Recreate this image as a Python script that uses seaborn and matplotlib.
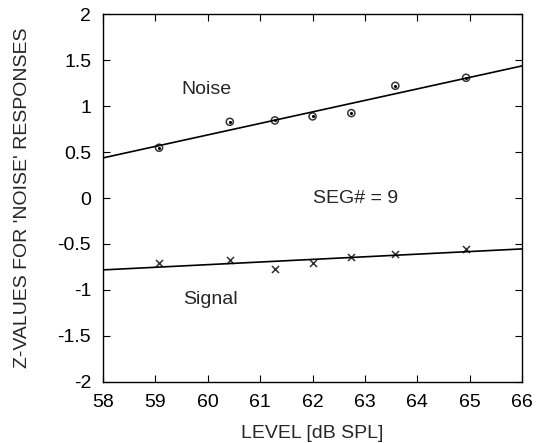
import matplotlib
matplotlib.use("Agg")
import matplotlib.pyplot as plt
import seaborn as sns
import pandas as pd

# levels in dB SPL and z-values
level = [59.07, 60.42, 61.28, 62.00, 62.74, 63.58, 64.93]
z_noise = [0.547, 0.829, 0.844, 0.888, 0.924, 1.221, 1.308]
z_signal = [-0.710, -0.674, -0.775, -0.710, -0.645, -0.609, -0.551]
xticks = [58, 59, 60, 61, 62, 63, 64, 65, 66]
yticks = [-2, -1.5, -1, -0.5, 0, 0.5, 1, 1.5, 2]
ytick_labels = ["-2", "-1.5", "-1", "-0.5", "0", "0.5", "1", "1.5", "2"]

sns.set_style("ticks")
plt.rcParams["font.family"] = ["Liberation Sans", "DejaVu Sans"]
plt.rcParams["axes.unicode_minus"] = False

df = pd.DataFrame({"level": level, "noise": z_noise, "signal": z_signal})

fig = plt.figure(figsize=(5.45, 4.43), dpi=100)
ax = fig.add_axes([0.189, 0.138, 0.769, 0.830])
ax.set_xlim(58, 66)
ax.set_ylim(-2, 2)

line_kws = {"color": "black", "lw": 1.2}
sns.regplot(data=df, x="level", y="noise", ax=ax, ci=None, truncate=False,
            marker="o", line_kws=line_kws,
            scatter_kws={"s": 26, "facecolors": "none", "edgecolors": "black", "linewidths": 1.1})
ax.scatter(level, z_noise, s=1.5, color="black", zorder=3)
sns.regplot(data=df, x="level", y="signal", ax=ax, ci=None, truncate=False,
            marker="x", line_kws=line_kws,
            scatter_kws={"s": 26, "color": "black", "linewidths": 1.1})

ax.set_xlim(58, 66)
ax.set_ylim(-2, 2)
ax.set_xticks(xticks)
ax.set_yticks(yticks)
ax.set_yticklabels(ytick_labels)
ax.tick_params(direction="in", top=True, right=True, length=5, width=0.8,
               labelsize=14, colors="black")
ax.tick_params(axis="x", pad=9)
ax.tick_params(axis="y", pad=8.5)
for s in ax.spines.values():
    s.set_linewidth(1.0)
    s.set_color("black")

ax.set_xlabel("LEVEL [dB SPL]", fontsize=14, labelpad=10)
ax.set_ylabel("Z-VALUES FOR 'NOISE' RESPONSES", fontsize=14, labelpad=19)

ax.text(59.5, 1.18, "Noise", fontsize=14, va="center")
ax.text(59.52, -1.1, "Signal", fontsize=14, va="center")
ax.text(62.01, 0.0, "SEG# = 9", fontsize=14, va="center")

fig.savefig("out.png", dpi=100)
